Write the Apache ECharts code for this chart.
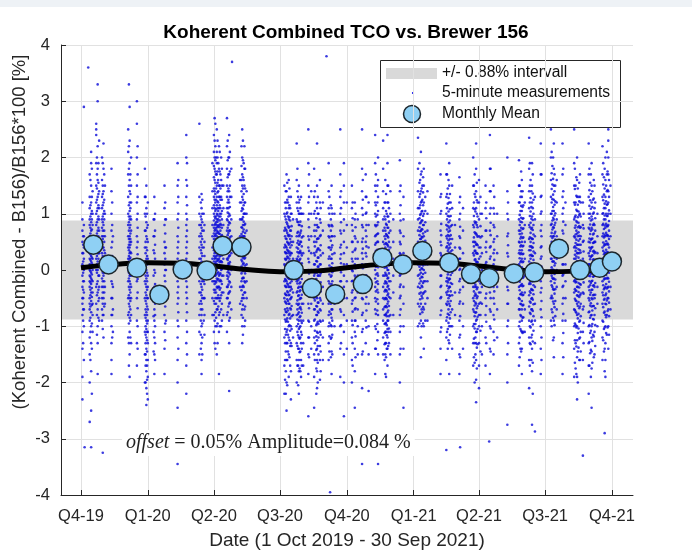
<!DOCTYPE html>
<html>
<head>
<meta charset="utf-8">
<script src="https://cdn.jsdelivr.net/npm/echarts@6/dist/echarts.min.js"></script>
<style>html,body{margin:0;padding:0;background:#fff;}#chart{width:692px;height:555px;}</style>
</head>
<body>
<div id="chart"></div>
<script>
// ---- data (x = days since 1 Oct 2019) ----
const quarterDays = [0, 92, 183, 274, 366, 458, 548, 639, 731];
const quarterLabels = ['Q4-19', 'Q1-20', 'Q2-20', 'Q3-20', 'Q4-20', 'Q1-21', 'Q2-21', 'Q3-21', 'Q4-21'];
const yTicks = [-4, -3, -2, -1, 0, 1, 2, 3, 4];
const bandHalfWidth = 0.88;

const meanDays = [17, 38, 77, 108, 140, 173, 195, 221, 293, 318, 350, 388, 415, 443, 470, 507, 537, 562, 596, 624, 658, 687, 714, 731];
const meanValues = [0.45, 0.10, 0.04, -0.44, 0.01, -0.01, 0.43, 0.41, 0.00, -0.32, -0.43, -0.25, 0.22, 0.10, 0.34, 0.13, -0.07, -0.14, -0.06, -0.04, 0.38, 0.00, 0.04, 0.15];

const fitDays = [0, 45, 92, 137, 183, 228, 274, 320, 366, 412, 458, 503, 548, 594, 639, 685, 731];
const fitValues = [0.04, 0.10, 0.13, 0.12, 0.07, 0.01, -0.03, -0.02, 0.04, 0.10, 0.13, 0.12, 0.07, 0.01, -0.03, -0.02, 0.04];

const measDays = [2,4,12,14,16,21,23,25,29,31,33,42,44,65,67,69,77,88,90,92,101,115,117,133,145,163,166,169,
  181,184,187,190,193,196,201,204,207,219,222,225,228,280,283,286,289,292,297,300,303,306,313,317,321,325,329,333,
  341,345,349,357,362,366,373,377,381,387,392,396,405,409,416,419,422,426,430,439,444,464,468,472,477,495,503,507,
  511,515,521,526,540,544,548,552,557,563,568,573,587,603,607,611,617,621,625,633,647,651,655,663,667,679,683,687,
  691,699,703,707,711,718,722,726,729];
const measValues = [
  [1.2,0.9,0.7,0.5,0.3,0.1,-0.1,-0.3,-0.5,-0.6,-0.8,-1.1,-1.4,-1.9,-2.3],
  [2.9,0.8,0.6,0.4,0.2,0.0,-0.2,-0.4,-0.7,-1.0,-1.6],
  [1.7,1.3,1.1,0.9,0.8,0.6,0.5,0.4,0.3,0.2,0.1,0.0,-0.1,-0.2,-0.3,-0.5,-0.6,-0.7,-0.9,-1.2,-1.5,-2.0,-2.7],
  [2.1,1.9,1.5,1.2,1.0,0.85,0.7,0.55,0.45,0.35,0.25,0.15,0.05,-0.05,-0.15,-0.25,-0.4,-0.55,-0.75,-1.0,-1.3,-1.8,-2.5,-3.15],
  [1.4,1.0,0.8,0.6,0.4,0.2,0.0,-0.2,-0.4,-0.6,-0.8,-1.1],
  [2.6,2.5,2.4,1.9,1.5,1.2,1.0,0.8,0.6,0.4,0.2,0.0,-0.3,-0.6],
  [3.3,3.0,2.2,1.8,1.6,1.3,1.1,0.9,0.7,0.55,0.4,0.3,0.15,0.0,-0.2,-0.4,-0.7,-1.0,-1.3,-1.85],
  [2.3,1.4,1.1,0.9,0.7,0.5,0.3,0.1,-0.1,-0.3,-0.5,-0.9],
  [2.0,1.6,1.3,1.1,0.9,0.75,0.6,0.45,0.3,0.15,0.0,-0.15,-0.3,-0.5,-0.7,-0.9],
  [2.25,1.8,1.4,1.2,1.0,0.8,0.6,0.4,0.2,0.05,-0.1,-0.3,-0.5,-0.8,-1.2],
  [1.5,1.0,0.6,0.3,0.0,-0.3,-0.6],
  [1.8,1.4,1.0,0.7,0.4,0.1,-0.2,-0.5,-0.8,-1.0,-1.3,-1.6,-1.85],
  [0.6,0.2,-0.3,-0.7,-1.1],
  [2.5,2.1,1.7,1.3,1.0,0.8,0.6,0.4,0.2,0.0,-0.2,-0.5,-0.8,-1.2],
  [2.9,2.3,1.9,1.6,1.4,1.2,1.05,0.9,0.75,0.6,0.5,0.4,0.3,0.2,0.1,0.0,-0.1,-0.2,-0.35,-0.5,-0.65,-0.85,-1.1,-1.5,-1.9],
  [2.0,1.5,1.2,0.9,0.7,0.5,0.3,0.1,-0.1,-0.3,-0.5,-0.8,-1.3],
  [3.0,2.6,2.0,1.5,1.2,0.9,0.6,0.4,0.1,-0.2,-0.5,-0.9,-1.3,-1.7],
  [1.8,1.3,1.0,0.7,0.4,0.1,-0.2,-0.5,-0.8,-1.1,-1.5,-2.0],
  [1.5,1.1,0.85,0.6,0.4,0.2,0.0,-0.15,-0.3,-0.45,-0.6,-0.75,-0.9,-1.05,-1.2,-1.4,-1.6,-1.8,-2.1,-2.4],
  [1.2,0.8,0.5,0.2,-0.1,-0.3,-0.5,-0.7,-0.9,-1.1,-1.3,-1.6,-1.9,-2.3],
  [1.3,0.9,0.6,0.3,0.0,-0.3,-0.5,-0.7,-0.9,-1.2,-1.5,-1.85],
  [1.5,1.1,0.8,0.5,0.3,0.1,-0.1,-0.3,-0.5,-0.8,-1.1,-1.4,-1.85],
  [0.9,0.4,0.0,-0.4,-0.9],
  [1.9,1.5,1.2,0.9,0.6,0.4,0.2,0.0,-0.2,-0.4,-0.6,-0.9,-1.2,-1.6,-2.0,-2.45,-3.45],
  [2.4,2.0,1.6,1.3,1.0,0.8,0.6,0.4,0.2,0.0,-0.2,-0.4,-0.6,-0.9,-1.3,-1.7,-2.2],
  [2.6,1.3,1.0,0.8,0.6,0.4,0.2,0.0,-0.2,-0.4,-0.6,-0.8,-1.1,-1.5],
  [1.35,1.1,0.9,0.75,0.6,0.45,0.3,0.15,0.0,-0.15,-0.3,-0.45,-0.6,-0.8,-1.0,-1.3,-1.6,-1.85],
  [1.0,0.7,0.4,0.1,-0.2,-0.5,-0.9],
  [1.9,1.4,1.1,0.8,0.6,0.4,0.2,0.0,-0.2,-0.5,-0.8],
  [2.7,2.3,2.0,1.8,1.6,1.4,1.25,1.1,0.95,0.8,0.7,0.6,0.5,0.4,0.3,0.2,0.1,0.0,-0.1,-0.25,-0.4,-0.6,-0.9,-1.3],
  [2.5,2.1,1.9,1.7,1.5,1.3,1.15,1.0,0.9,0.8,0.7,0.6,0.5,0.4,0.3,0.2,0.1,0.0,-0.15,-0.3,-0.5,-0.7,-1.0,-1.5],
  [2.2,1.8,1.5,1.3,1.1,0.95,0.8,0.65,0.5,0.35,0.2,0.05,-0.1,-0.3,-0.5,-0.8,-1.1,-1.85],
  [2.0,1.6,1.3,1.0,0.8,0.6,0.45,0.3,0.15,0.0,-0.2,-0.45,-0.7,-1.0],
  [1.5,1.1,0.8,0.5,0.2,-0.1,-0.4,-0.8],
  [2.7,2.2,1.8,1.5,1.3,1.1,0.9,0.7,0.5,0.35,0.2,0.05,-0.1,-0.3,-0.5,-0.8,-1.1],
  [2.4,2.0,1.7,1.4,1.2,1.0,0.85,0.7,0.55,0.4,0.25,0.1,-0.05,-0.2,-0.4,-0.6,-0.9,-1.3,-2.15],
  [1.8,1.3,0.9,0.6,0.3,0.0,-0.3,-0.7],
  [1.6,1.2,0.9,0.6,0.3,0.0,-0.3,-0.6],
  [2.5,2.0,1.7,1.5,1.3,1.1,0.9,0.75,0.6,0.45,0.3,0.15,0.0,-0.15,-0.3,-0.5,-0.7,-1.0,-1.3],
  [2.2,1.8,1.5,1.2,1.0,0.8,0.6,0.4,0.2,0.0,-0.2,-0.4,-0.7,-1.0],
  [1.4,1.0,0.7,0.4,0.1,-0.2,-0.5],
  [1.5,1.0,0.7,0.4,0.1,-0.2,-0.5,-0.8,-1.2,-1.7,-2.2],
  [1.7,1.4,1.2,1.0,0.85,0.7,0.55,0.4,0.3,0.2,0.1,0.0,-0.1,-0.2,-0.3,-0.45,-0.6,-0.75,-0.9,-1.1,-1.3,-1.6,-2.0,-2.5],
  [1.6,1.3,1.1,0.9,0.75,0.6,0.45,0.3,0.15,0.0,-0.15,-0.3,-0.45,-0.6,-0.8,-1.0,-1.2,-1.5,-1.9],
  [1.3,1.0,0.7,0.5,0.3,0.1,-0.1,-0.3,-0.5,-0.7,-1.0,-1.3,-1.8,-2.3],
  [0.9,0.5,0.2,-0.1,-0.4,-0.8,-1.2],
  [2.25,1.6,1.2,0.9,0.6,0.4,0.2,0.0,-0.2,-0.4,-0.6,-0.8,-1.0,-1.3,-1.6,-2.0],
  [1.5,1.2,1.0,0.8,0.6,0.45,0.3,0.15,0.0,-0.15,-0.3,-0.45,-0.6,-0.75,-0.9,-1.05,-1.2,-1.4,-1.6,-1.8,-2.2],
  [1.3,1.0,0.7,0.5,0.3,0.1,-0.1,-0.3,-0.5,-0.7,-0.9,-1.1,-1.3,-1.6,-1.9],
  [1.0,0.6,0.3,0.0,-0.3,-0.6,-0.9,-1.3,-1.7],
  [2.5,1.9,1.5,1.2,0.9,0.6,0.4,0.2,0.0,-0.2,-0.4,-0.6,-0.9,-1.2,-1.5,-1.85,-2.6],
  [1.4,1.0,0.6,0.3,0.0,-0.3,-0.6,-1.0,-1.4],
  [1.8,1.3,1.0,0.7,0.5,0.3,0.1,-0.1,-0.3,-0.5,-0.7,-0.9,-1.2,-1.5,-1.9,-2.45],
  [2.25,1.5,1.1,0.8,0.55,0.35,0.15,-0.05,-0.2,-0.35,-0.5,-0.65,-0.8,-0.95,-1.1,-1.25,-1.4,-1.6,-1.8,-2.1],
  [1.6,1.2,0.9,0.6,0.35,0.1,-0.1,-0.3,-0.5,-0.7,-0.9,-1.1,-1.35,-1.6,-1.95],
  [1.2,0.7,0.3,0.0,-0.3,-0.6,-0.9,-1.2,-1.6],
  [1.9,1.4,1.1,0.8,0.6,0.4,0.2,0.0,-0.2,-0.4,-0.6,-0.8,-1.0,-1.3,-1.6],
  [1.5,1.1,0.8,0.6,0.4,0.2,0.05,-0.1,-0.25,-0.4,-0.55,-0.7,-0.85,-1.0,-1.2,-1.45,-1.85],
  [1.0,0.6,0.3,0.0,-0.3,-0.6,-1.0],
  [2.5,1.7,1.3,1.0,0.7,0.4,0.2,0.0,-0.2,-0.4,-0.7,-1.0,-1.4,-1.9],
  [1.9,1.5,1.2,0.9,0.7,0.5,0.3,0.1,-0.1,-0.3,-0.5,-0.8,-1.1,-1.5,-2.0,-2.6],
  [1.2,0.8,0.4,0.1,-0.2,-0.5,-0.9,-1.4],
  [1.5,1.1,0.8,0.5,0.2,0.0,-0.2,-0.4,-0.6,-0.9,-1.2,-1.6,-2.0],
  [1.2,0.9,0.6,0.35,0.1,-0.1,-0.3,-0.5,-0.7,-0.9,-1.1,-1.4,-1.8,-2.45],
  [0.9,0.5,0.2,-0.1,-0.4,-0.7,-1.0,-1.5],
  [2.5,1.8,1.4,1.1,0.8,0.5,0.3,0.1,-0.1,-0.3,-0.5,-0.8,-1.1,-1.5,-2.1,-3.45],
  [1.7,1.3,1.0,0.7,0.5,0.3,0.1,-0.1,-0.3,-0.6,-0.9,-1.3],
  [1.2,0.8,0.4,0.1,-0.2,-0.6,-1.0,-1.5,-2.15],
  [2.4,1.9,1.5,1.2,1.0,0.8,0.6,0.45,0.3,0.15,0.0,-0.15,-0.3,-0.5,-0.7,-1.0,-1.4,-1.85],
  [2.0,1.6,1.3,1.05,0.85,0.65,0.5,0.35,0.2,0.05,-0.1,-0.25,-0.4,-0.6,-0.8,-1.1,-1.5,-3.45],
  [2.3,1.8,1.4,1.1,0.9,0.7,0.5,0.3,0.1,-0.1,-0.3,-0.5,-0.7,-0.9,-1.2,-1.5],
  [1.6,1.2,0.9,0.7,0.55,0.4,0.25,0.1,-0.05,-0.2,-0.35,-0.5,-0.65,-0.8,-0.95,-1.1,-1.3,-1.5,-1.85],
  [2.4,1.9,1.5,1.2,0.95,0.75,0.6,0.45,0.3,0.15,0.0,-0.15,-0.3,-0.45,-0.6,-0.75,-0.9,-1.05,-1.2,-1.4,-1.7],
  [1.4,1.0,0.7,0.4,0.1,-0.2,-0.5,-0.8,-1.1,-1.5],
  [0.9,0.5,0.2,-0.1,-0.4,-0.8],
  [1.95,1.4,1.0,0.7,0.5,0.3,0.1,-0.1,-0.3,-0.5,-0.8,-1.1,-1.5,-2.0],
  [1.3,0.9,0.6,0.3,0.0,-0.3,-0.6,-1.0,-1.4,-2.45],
  [2.35,1.8,1.4,1.1,0.9,0.7,0.5,0.3,0.1,-0.1,-0.3,-0.6,-1.0],
  [2.1,1.7,1.4,1.2,1.0,0.85,0.7,0.55,0.4,0.25,0.1,-0.05,-0.2,-0.4,-0.6,-0.9,-1.2,-1.55],
  [1.8,1.5,1.2,1.0,0.8,0.6,0.45,0.3,0.15,0.0,-0.2,-0.4,-0.7,-1.0,-1.4],
  [1.4,1.0,0.7,0.4,0.1,-0.2,-0.5,-0.9],
  [1.7,1.3,1.0,0.7,0.5,0.3,0.1,-0.1,-0.3,-0.5,-0.8,-1.1,-1.4,-1.85],
  [2.25,1.7,1.3,1.0,0.8,0.6,0.4,0.2,0.0,-0.2,-0.4,-0.6,-0.9,-1.2,-1.6],
  [1.9,1.5,1.2,0.95,0.75,0.6,0.45,0.3,0.15,0.0,-0.15,-0.3,-0.45,-0.6,-0.8,-1.0,-1.3,-1.85],
  [1.5,1.1,0.8,0.55,0.35,0.15,-0.05,-0.25,-0.45,-0.7,-1.0,-1.4],
  [0.8,0.4,0.0,-0.4,-0.8],
  [1.65,1.2,0.9,0.6,0.4,0.2,0.0,-0.2,-0.4,-0.6,-0.9,-1.2,-1.5,-1.85],
  [1.1,0.7,0.3,0.0,-0.3,-0.6,-1.0,-1.4],
  [2.0,1.5,1.1,0.8,0.5,0.3,0.1,-0.1,-0.3,-0.5,-0.7,-1.0,-1.3,-1.7],
  [2.25,1.8,1.4,1.1,0.85,0.65,0.45,0.3,0.15,0.0,-0.15,-0.3,-0.45,-0.6,-0.75,-0.9,-1.1,-1.3,-1.6,-1.95,-2.35],
  [1.6,1.2,0.9,0.6,0.4,0.2,0.0,-0.2,-0.4,-0.6,-0.8,-1.0,-1.3,-1.7,-2.1],
  [1.0,0.6,0.3,0.0,-0.3,-0.6,-1.0,-1.5],
  [1.5,1.1,0.7,0.4,0.1,-0.2,-0.5,-0.8,-1.2,-1.7],
  [2.4,1.8,1.4,1.0,0.7,0.4,0.2,0.0,-0.2,-0.4,-0.7,-1.0,-1.4,-1.85],
  [1.5,1.1,0.8,0.5,0.3,0.1,-0.1,-0.3,-0.5,-0.8,-1.1,-1.5],
  [1.0,0.6,0.3,0.0,-0.3,-0.7,-1.2],
  [2.0,1.4,1.0,0.6,0.3,0.0,-0.3,-0.6,-1.0,-1.5,-2.0,-2.75],
  [1.95,1.5,1.2,0.9,0.7,0.5,0.3,0.1,-0.1,-0.3,-0.5,-0.7,-1.0,-1.3,-1.7],
  [1.6,1.3,1.05,0.85,0.65,0.5,0.35,0.2,0.05,-0.1,-0.25,-0.4,-0.55,-0.7,-0.9,-1.1,-1.4,-1.85],
  [1.2,0.8,0.5,0.2,-0.1,-0.4,-0.7,-1.1],
  [2.35,1.8,1.4,1.1,0.8,0.55,0.35,0.15,-0.05,-0.25,-0.45,-0.65,-0.9,-1.2,-1.6,-2.1],
  [1.9,1.5,1.2,0.95,0.75,0.55,0.4,0.25,0.1,-0.05,-0.2,-0.35,-0.5,-0.7,-0.9,-1.15,-1.4,-1.8,-2.75],
  [1.3,0.9,0.6,0.3,0.0,-0.3,-0.6,-0.9,-1.3],
  [2.25,1.7,1.3,1.0,0.7,0.4,0.2,0.0,-0.2,-0.4,-0.7,-1.0,-1.4,-1.85],
  [2.5,2.0,1.6,1.3,1.0,0.8,0.6,0.4,0.2,0.0,-0.2,-0.5,-0.9],
  [2.25,1.8,1.5,1.25,1.05,0.9,0.75,0.6,0.45,0.3,0.15,0.0,-0.15,-0.35,-0.6,-0.9,-1.2,-1.55],
  [1.6,1.2,0.9,0.6,0.4,0.2,0.0,-0.3,-0.7],
  [2.25,1.7,1.3,1.0,0.7,0.5,0.3,0.1,-0.1,-0.3,-0.6,-0.9,-1.3,-1.85],
  [1.2,0.8,0.4,0.1,-0.2,-0.5,-0.9],
  [2.5,1.9,1.5,1.2,0.9,0.6,0.4,0.2,0.0,-0.2,-0.4,-0.7,-1.0,-1.4,-1.9],
  [2.0,1.6,1.3,1.05,0.85,0.65,0.45,0.3,0.15,0.0,-0.15,-0.3,-0.45,-0.6,-0.8,-1.0,-1.25,-1.55,-1.9,-2.3],
  [1.7,1.3,1.0,0.75,0.55,0.35,0.15,-0.05,-0.25,-0.45,-0.65,-0.9,-1.2,-1.6],
  [1.2,0.8,0.5,0.2,-0.1,-0.4,-0.7,-1.1,-1.6],
  [2.25,1.7,1.3,1.0,0.75,0.5,0.3,0.1,-0.1,-0.3,-0.5,-0.75,-1.0,-1.3,-1.7,-2.2],
  [1.9,1.5,1.2,0.95,0.75,0.55,0.4,0.25,0.1,-0.05,-0.2,-0.35,-0.5,-0.65,-0.8,-1.0,-1.2,-1.45,-1.75,-2.45],
  [1.5,1.1,0.8,0.5,0.3,0.1,-0.1,-0.3,-0.5,-0.8,-1.1,-1.5],
  [1.0,0.6,0.3,0.0,-0.3,-0.6,-1.0],
  [2.2,1.7,1.3,1.0,0.8,0.6,0.4,0.2,0.0,-0.2,-0.4,-0.6,-0.9,-1.2,-1.6],
  [2.0,1.6,1.3,1.1,0.9,0.75,0.6,0.45,0.3,0.15,0.0,-0.15,-0.3,-0.45,-0.6,-0.8,-1.0,-1.3,-1.6,-1.9],
  [2.5,2.3,2.0,1.7,1.4,1.2,1.0,0.8,0.6,0.45,0.3,0.15,0.0,-0.15,-0.3,-0.5,-0.7,-1.0,-1.4],
  [1.5,1.0,0.6,0.3,0.0,-0.3,-0.7]
];
// denser day-columns inside the busiest streaks
const denseDays = [3,13,15,22,24,30,32,43,66,68,78,89,91,100,102,116,134,146,165,167,170,
  183,185,186,188,189,191,192,194,202,203,205,221,223,224,226,
  281,282,284,285,287,288,290,298,299,301,302,304,314,322,324,326,327,330,342,344,346,
  358,374,378,388,393,406,408,418,420,421,423,424,440,466,467,469,470,471,474,496,
  504,505,506,508,509,522,541,542,543,545,546,550,558,564,569,588,
  604,605,606,608,609,618,619,620,622,623,634,648,649,650,652,653,664,
  680,681,682,684,685,686,688,692,700,701,702,704,705,706,708,719,720,721,723,724,725,727];
const denseValues = [
  [0.6,0.45,0.3,0.15,0.05,-0.05,-0.2,-0.35,-0.5,-0.7,-0.9,-1.3],
  [1.6,1.15,0.95,0.75,0.65,0.5,0.38,0.28,0.18,0.08,-0.02,-0.12,-0.22,-0.35,-0.45,-0.65,-0.85,-1.1,-1.6],
  [1.8,1.3,1.05,0.9,0.72,0.6,0.48,0.32,0.22,0.12,-0.08,-0.18,-0.32,-0.48,-0.62,-0.95,-1.4,-2.2],
  [2.0,1.7,1.45,1.25,1.05,0.85,0.65,0.5,0.35,0.25,0.1,-0.05,-0.25,-0.45,-0.8,-1.15],
  [1.9,1.55,1.35,1.15,0.95,0.75,0.6,0.45,0.3,0.2,0.05,-0.1,-0.35,-0.55,-0.85],
  [1.9,1.5,1.35,1.15,0.95,0.85,0.7,0.55,0.4,0.25,0.1,-0.05,-0.2,-0.4,-0.6,-0.8,-1.05],
  [1.7,1.25,1.05,0.9,0.7,0.5,0.35,0.2,0.1,-0.05,-0.2,-0.4,-0.65],
  [1.2,0.8,0.5,0.25,0.0,-0.25,-0.5,-0.8,-1.2],
  [2.2,1.8,1.5,1.15,0.95,0.85,0.7,0.55,0.45,0.35,0.25,0.15,0.05,-0.05,-0.15,-0.3,-0.45,-0.6,-0.75,-0.95,-1.3,-1.7],
  [1.7,1.35,1.1,0.95,0.8,0.65,0.55,0.45,0.32,0.22,0.12,0.02,-0.08,-0.25,-0.4,-0.55,-0.7,-0.9,-1.2],
  [2.2,1.7,1.3,1.0,0.75,0.5,0.28,0.06,-0.16,-0.4,-0.68,-1.0,-1.4],
  [1.3,0.95,0.7,0.5,0.3,0.15,0.05,-0.1,-0.25,-0.4,-0.55,-0.7,-0.85,-1.0,-1.15,-1.3,-1.5,-1.7,-2.0],
  [1.0,0.75,0.55,0.35,0.25,0.1,-0.05,-0.2,-0.35,-0.5,-0.65,-0.8,-0.95,-1.1,-1.25,-1.45,-1.7,-1.95,-2.2],
  [0.9,0.6,0.35,0.12,-0.1,-0.32,-0.56,-0.82,-1.1,-1.45],
  [1.0,0.7,0.45,0.2,-0.05,-0.25,-0.45,-0.6,-0.8,-1.0,-1.3,-1.6],
  [1.2,0.9,0.65,0.4,0.2,0.0,-0.2,-0.4,-0.65,-0.95,-1.25],
  [1.6,1.3,1.0,0.75,0.5,0.3,0.1,-0.1,-0.3,-0.5,-0.75,-1.0,-1.4],
  [1.9,1.5,1.15,0.9,0.7,0.5,0.3,0.1,-0.1,-0.3,-0.5,-0.75,-1.1,-1.5],
  [1.2,0.95,0.8,0.65,0.5,0.35,0.2,0.05,-0.1,-0.25,-0.4,-0.55,-0.7,-0.9,-1.15,-1.4],
  [1.25,1.0,0.85,0.7,0.55,0.4,0.25,0.1,-0.05,-0.2,-0.35,-0.5,-0.7,-0.95,-1.2,-1.5],
  [0.8,0.5,0.25,0.0,-0.25,-0.5,-0.8,-1.15],
  [2.4,2.1,1.85,1.65,1.45,1.3,1.15,1.0,0.88,0.75,0.65,0.55,0.45,0.35,0.25,0.15,0.05,-0.05,-0.2,-0.35,-0.55,-0.8,-1.1],
  [2.6,2.2,1.95,1.75,1.55,1.35,1.2,1.05,0.92,0.82,0.72,0.62,0.52,0.42,0.32,0.22,0.12,0.02,-0.1,-0.2,-0.35,-0.5,-0.75,-1.0,-1.4],
  [2.0,1.7,1.45,1.25,1.08,0.95,0.85,0.75,0.65,0.55,0.45,0.35,0.25,0.15,0.05,-0.08,-0.22,-0.4,-0.6,-0.85],
  [2.3,2.0,1.75,1.55,1.38,1.22,1.1,0.98,0.86,0.76,0.66,0.56,0.46,0.36,0.26,0.16,0.06,-0.06,-0.18,-0.32,-0.5,-0.7,-0.95,-1.3],
  [1.9,1.6,1.4,1.2,1.05,0.9,0.78,0.68,0.58,0.48,0.38,0.28,0.18,0.08,-0.04,-0.16,-0.3,-0.45,-0.65],
  [2.1,1.75,1.5,1.3,1.15,1.0,0.88,0.76,0.64,0.54,0.44,0.34,0.24,0.14,0.04,-0.08,-0.2,-0.35,-0.55,-0.75,-1.0],
  [1.7,1.45,1.25,1.1,0.95,0.82,0.7,0.58,0.46,0.36,0.26,0.16,0.06,-0.06,-0.18,-0.32,-0.5],
  [1.8,1.5,1.25,1.05,0.9,0.75,0.62,0.5,0.38,0.26,0.14,0.02,-0.1,-0.25,-0.4,-0.6,-0.9],
  [2.3,1.95,1.65,1.4,1.2,1.02,0.88,0.75,0.62,0.5,0.4,0.3,0.18,0.08,-0.04,-0.16,-0.3,-0.5,-0.75],
  [2.0,1.7,1.45,1.25,1.1,0.95,0.8,0.66,0.54,0.44,0.34,0.22,0.12,0.0,-0.12,-0.26,-0.42,-0.65],
  [2.1,1.75,1.5,1.3,1.12,0.97,0.83,0.7,0.58,0.46,0.36,0.26,0.14,0.04,-0.08,-0.22,-0.38,-0.58,-0.85],
  [2.2,1.85,1.6,1.4,1.2,1.05,0.9,0.76,0.64,0.52,0.4,0.28,0.18,0.06,-0.06,-0.2,-0.36,-0.55,-0.8],
  [2.3,1.95,1.65,1.45,1.25,1.08,0.94,0.8,0.68,0.56,0.44,0.34,0.22,0.1,-0.02,-0.14,-0.28,-0.44,-0.62,-0.85,-1.15],
  [1.9,1.6,1.35,1.15,1.0,0.86,0.72,0.6,0.48,0.36,0.24,0.12,0.0,-0.14,-0.3,-0.5],
  [1.8,1.45,1.2,1.0,0.82,0.66,0.5,0.36,0.22,0.08,-0.06,-0.22,-0.4,-0.65,-0.9],
  [1.2,0.95,0.75,0.6,0.45,0.32,0.2,0.08,-0.04,-0.16,-0.28,-0.42,-0.56,-0.7,-0.88,-1.05,-1.3,-1.6,-1.95],
  [1.4,1.1,0.9,0.72,0.56,0.42,0.3,0.18,0.06,-0.06,-0.18,-0.3,-0.44,-0.58,-0.74,-0.92,-1.15,-1.45,-1.8,-2.2],
  [1.55,1.25,1.02,0.82,0.66,0.5,0.36,0.24,0.12,0.0,-0.12,-0.24,-0.38,-0.52,-0.68,-0.86,-1.06,-1.3,-1.6,-2.05],
  [1.2,0.95,0.78,0.62,0.48,0.34,0.22,0.1,-0.02,-0.14,-0.26,-0.4,-0.55,-0.72,-0.92,-1.15,-1.45],
  [1.45,1.15,0.94,0.77,0.62,0.47,0.33,0.2,0.08,-0.04,-0.16,-0.3,-0.44,-0.6,-0.78,-0.98,-1.25,-1.55],
  [1.1,0.88,0.7,0.55,0.4,0.26,0.14,0.02,-0.1,-0.23,-0.37,-0.52,-0.68,-0.86,-1.08,-1.35,-1.7],
  [1.0,0.78,0.6,0.44,0.3,0.16,0.04,-0.08,-0.2,-0.34,-0.48,-0.64,-0.82,-1.05,-1.35],
  [1.8,1.4,1.1,0.86,0.66,0.48,0.32,0.18,0.04,-0.1,-0.24,-0.38,-0.54,-0.7,-0.88,-1.1,-1.35,-1.7],
  [1.3,1.05,0.85,0.68,0.52,0.38,0.24,0.1,-0.04,-0.18,-0.32,-0.46,-0.62,-0.78,-0.96,-1.16,-1.4,-1.7,-2.05],
  [1.25,1.0,0.8,0.62,0.46,0.32,0.18,0.04,-0.1,-0.24,-0.38,-0.52,-0.68,-0.84,-1.02,-1.22,-1.46,-1.75],
  [1.1,0.86,0.66,0.5,0.34,0.2,0.06,-0.08,-0.22,-0.36,-0.5,-0.66,-0.82,-1.0,-1.2,-1.45,-1.8],
  [1.0,0.78,0.58,0.42,0.26,0.12,-0.02,-0.16,-0.3,-0.44,-0.6,-0.76,-0.94,-1.15,-1.4,-1.7],
  [1.7,1.3,1.0,0.76,0.54,0.34,0.14,-0.06,-0.26,-0.46,-0.68,-0.92,-1.2,-1.55],
  [1.4,1.05,0.8,0.6,0.42,0.26,0.1,-0.06,-0.22,-0.38,-0.54,-0.7,-0.88,-1.08,-1.3,-1.6],
  [1.2,0.92,0.7,0.5,0.32,0.16,0.0,-0.16,-0.32,-0.48,-0.64,-0.8,-0.98,-1.18,-1.42,-1.75,-2.2],
  [1.3,1.0,0.76,0.56,0.38,0.22,0.06,-0.1,-0.26,-0.42,-0.58,-0.74,-0.92,-1.12,-1.35,-1.65,-2.0],
  [1.0,0.76,0.56,0.38,0.22,0.06,-0.1,-0.26,-0.42,-0.58,-0.76,-0.96,-1.2,-1.5],
  [1.1,0.84,0.62,0.44,0.26,0.1,-0.06,-0.22,-0.38,-0.54,-0.72,-0.92,-1.15,-1.45,-1.8],
  [1.3,1.0,0.78,0.58,0.4,0.24,0.08,-0.08,-0.24,-0.4,-0.56,-0.74,-0.94,-1.18,-1.45],
  [1.15,0.9,0.7,0.52,0.36,0.2,0.04,-0.12,-0.28,-0.44,-0.6,-0.78,-0.98,-1.22,-1.55],
  [1.0,0.78,0.6,0.44,0.28,0.12,-0.04,-0.2,-0.36,-0.52,-0.7,-0.9,-1.15,-1.5],
  [1.4,1.1,0.85,0.65,0.45,0.28,0.12,-0.04,-0.2,-0.36,-0.54,-0.74,-0.98,-1.3],
  [1.2,0.92,0.7,0.5,0.32,0.15,-0.02,-0.19,-0.36,-0.54,-0.74,-0.98,-1.3,-1.7],
  [1.0,0.76,0.56,0.38,0.2,0.03,-0.14,-0.31,-0.49,-0.68,-0.9,-1.18,-1.55],
  [1.6,1.25,0.98,0.76,0.56,0.38,0.2,0.03,-0.14,-0.32,-0.52,-0.76,-1.05,-1.45],
  [1.3,1.02,0.8,0.6,0.42,0.24,0.07,-0.1,-0.28,-0.48,-0.72,-1.02],
  [1.7,1.4,1.15,0.95,0.78,0.62,0.48,0.34,0.2,0.06,-0.08,-0.22,-0.38,-0.56,-0.78,-1.05,-1.4],
  [1.5,1.2,0.98,0.8,0.64,0.5,0.36,0.22,0.08,-0.06,-0.2,-0.35,-0.52,-0.72,-0.96,-1.25],
  [1.2,0.95,0.75,0.6,0.46,0.32,0.18,0.04,-0.1,-0.24,-0.38,-0.52,-0.66,-0.8,-0.96,-1.12,-1.32,-1.6],
  [1.35,1.05,0.82,0.64,0.48,0.34,0.2,0.06,-0.08,-0.22,-0.36,-0.5,-0.64,-0.78,-0.94,-1.1,-1.3,-1.55,-1.9],
  [1.0,0.8,0.62,0.46,0.32,0.18,0.04,-0.1,-0.24,-0.38,-0.52,-0.66,-0.82,-0.98,-1.16,-1.4],
  [1.5,1.2,0.95,0.75,0.58,0.42,0.28,0.14,0.0,-0.14,-0.28,-0.42,-0.56,-0.72,-0.9,-1.1,-1.35],
  [1.1,0.86,0.66,0.5,0.36,0.22,0.08,-0.06,-0.2,-0.34,-0.48,-0.64,-0.82,-1.04,-1.3],
  [1.5,1.15,0.88,0.66,0.46,0.28,0.1,-0.08,-0.26,-0.46,-0.7,-1.0,-1.4],
  [1.9,1.55,1.3,1.1,0.92,0.76,0.62,0.48,0.34,0.2,0.06,-0.08,-0.24,-0.42,-0.65,-0.95],
  [1.6,1.35,1.15,0.98,0.83,0.69,0.55,0.42,0.28,0.14,0.0,-0.15,-0.32,-0.52,-0.78],
  [1.75,1.45,1.22,1.04,0.88,0.73,0.59,0.45,0.31,0.17,0.03,-0.12,-0.28,-0.46,-0.7,-1.0],
  [1.5,1.25,1.05,0.88,0.72,0.58,0.44,0.3,0.16,0.02,-0.13,-0.3,-0.5,-0.75],
  [1.65,1.38,1.15,0.96,0.8,0.65,0.5,0.36,0.22,0.08,-0.07,-0.23,-0.42,-0.66,-0.95],
  [1.3,1.05,0.85,0.68,0.52,0.38,0.24,0.1,-0.05,-0.2,-0.38,-0.6,-0.9],
  [1.35,1.05,0.82,0.62,0.44,0.26,0.08,-0.1,-0.28,-0.48,-0.72,-1.02],
  [1.7,1.35,1.1,0.9,0.72,0.56,0.42,0.28,0.14,0.0,-0.14,-0.28,-0.44,-0.62,-0.84,-1.1],
  [1.45,1.18,0.96,0.78,0.62,0.48,0.34,0.2,0.06,-0.08,-0.22,-0.38,-0.56,-0.78,-1.05,-1.4],
  [1.6,1.28,1.04,0.85,0.68,0.53,0.38,0.24,0.1,-0.04,-0.18,-0.33,-0.5,-0.7,-0.94,-1.25],
  [1.35,1.08,0.88,0.7,0.55,0.4,0.26,0.12,-0.02,-0.16,-0.3,-0.46,-0.64,-0.86,-1.15],
  [1.2,0.96,0.78,0.62,0.47,0.33,0.19,0.05,-0.09,-0.23,-0.38,-0.55,-0.75,-1.0],
  [1.3,1.0,0.77,0.57,0.38,0.2,0.02,-0.16,-0.35,-0.56,-0.82,-1.15,-1.55],
  [1.5,1.2,0.96,0.76,0.58,0.42,0.26,0.1,-0.06,-0.22,-0.38,-0.55,-0.74,-0.96,-1.22,-1.55],
  [1.7,1.35,1.08,0.86,0.67,0.5,0.34,0.18,0.02,-0.14,-0.3,-0.46,-0.63,-0.82,-1.04,-1.3,-1.65,-2.0],
  [1.3,1.04,0.83,0.65,0.49,0.34,0.19,0.04,-0.11,-0.26,-0.42,-0.58,-0.76,-0.96,-1.2,-1.5],
  [1.55,1.24,1.0,0.8,0.62,0.46,0.3,0.14,-0.02,-0.18,-0.34,-0.5,-0.68,-0.88,-1.1,-1.38,-1.75],
  [1.2,0.95,0.76,0.59,0.44,0.29,0.14,-0.01,-0.16,-0.31,-0.47,-0.64,-0.83,-1.05,-1.32],
  [1.3,1.0,0.78,0.58,0.4,0.24,0.08,-0.08,-0.24,-0.4,-0.58,-0.8,-1.08,-1.45],
  [1.2,0.92,0.7,0.5,0.32,0.14,-0.04,-0.22,-0.42,-0.64,-0.92,-1.3],
  [1.8,1.4,1.1,0.84,0.62,0.42,0.24,0.06,-0.12,-0.3,-0.5,-0.74,-1.04,-1.45],
  [1.3,1.0,0.76,0.55,0.36,0.18,0.0,-0.18,-0.38,-0.6,-0.88,-1.25],
  [1.2,0.9,0.65,0.44,0.24,0.05,-0.15,-0.36,-0.6,-0.9,-1.3],
  [1.5,1.2,0.98,0.8,0.64,0.49,0.35,0.21,0.07,-0.07,-0.21,-0.36,-0.52,-0.7,-0.92,-1.2,-1.55],
  [1.3,1.05,0.86,0.7,0.56,0.42,0.28,0.14,0.0,-0.14,-0.28,-0.43,-0.6,-0.8,-1.05,-1.4],
  [1.75,1.4,1.14,0.93,0.75,0.59,0.44,0.3,0.16,0.02,-0.12,-0.27,-0.43,-0.61,-0.82,-1.08,-1.45],
  [1.4,1.12,0.91,0.73,0.57,0.42,0.28,0.14,0.0,-0.14,-0.29,-0.45,-0.63,-0.85,-1.12],
  [1.15,0.92,0.74,0.58,0.43,0.29,0.15,0.01,-0.13,-0.28,-0.44,-0.62,-0.84,-1.1],
  [1.9,1.5,1.2,0.96,0.76,0.58,0.42,0.26,0.1,-0.06,-0.22,-0.38,-0.56,-0.76,-1.0,-1.3,-1.7],
  [1.6,1.28,1.04,0.84,0.66,0.5,0.35,0.2,0.05,-0.1,-0.25,-0.41,-0.58,-0.78,-1.02,-1.32],
  [1.4,1.12,0.91,0.73,0.57,0.42,0.27,0.12,-0.03,-0.18,-0.34,-0.51,-0.7,-0.92,-1.2,-1.6],
  [1.7,1.36,1.1,0.89,0.71,0.55,0.4,0.25,0.1,-0.05,-0.2,-0.36,-0.53,-0.73,-0.97,-1.27,-1.65,-2.2],
  [1.25,1.0,0.8,0.63,0.48,0.33,0.18,0.03,-0.12,-0.27,-0.43,-0.61,-0.82,-1.08],
  [1.7,1.32,1.04,0.8,0.6,0.42,0.24,0.06,-0.12,-0.32,-0.55,-0.84,-1.2,-1.6],
  [2.1,1.72,1.44,1.2,1.0,0.82,0.66,0.5,0.35,0.2,0.05,-0.1,-0.27,-0.46,-0.7,-1.0],
  [1.85,1.52,1.26,1.05,0.88,0.72,0.57,0.43,0.29,0.15,0.01,-0.14,-0.3,-0.5,-0.75],
  [2.0,1.62,1.34,1.12,0.93,0.76,0.6,0.45,0.3,0.15,0.0,-0.16,-0.34,-0.56,-0.85,-1.25],
  [1.7,1.4,1.16,0.97,0.8,0.65,0.5,0.36,0.22,0.08,-0.07,-0.23,-0.42,-0.66,-0.98],
  [1.5,1.22,1.01,0.84,0.68,0.54,0.4,0.26,0.12,-0.02,-0.17,-0.34,-0.55,-0.82],
  [1.8,1.4,1.1,0.86,0.65,0.46,0.28,0.1,-0.08,-0.28,-0.5,-0.78,-1.12,-1.55],
  [1.8,1.44,1.16,0.94,0.75,0.58,0.42,0.27,0.12,-0.03,-0.18,-0.34,-0.51,-0.71,-0.95,-1.25,-1.65],
  [1.5,1.2,0.97,0.79,0.63,0.48,0.34,0.2,0.06,-0.08,-0.22,-0.37,-0.54,-0.74,-0.98,-1.3,-1.75],
  [1.65,1.32,1.07,0.87,0.7,0.54,0.39,0.24,0.09,-0.06,-0.21,-0.37,-0.55,-0.76,-1.02,-1.36,-1.85],
  [1.45,1.16,0.94,0.76,0.6,0.45,0.3,0.15,0.0,-0.15,-0.3,-0.46,-0.64,-0.86,-1.12,-1.45,-2.0],
  [1.3,1.04,0.84,0.67,0.52,0.37,0.22,0.07,-0.08,-0.23,-0.39,-0.57,-0.78,-1.04,-1.38],
  [1.55,1.22,0.98,0.78,0.61,0.45,0.3,0.15,0.0,-0.15,-0.31,-0.48,-0.68,-0.92,-1.22,-1.6],
  [1.2,0.95,0.76,0.6,0.45,0.31,0.17,0.03,-0.11,-0.26,-0.42,-0.6,-0.82,-1.1,-1.45],
  [1.0,0.74,0.52,0.33,0.15,-0.03,-0.22,-0.42,-0.65,-0.94,-1.3],
  [1.8,1.42,1.14,0.92,0.73,0.56,0.4,0.25,0.1,-0.05,-0.2,-0.36,-0.54,-0.74,-0.98,-1.28,-1.7],
  [1.55,1.24,1.0,0.81,0.64,0.49,0.34,0.19,0.04,-0.11,-0.27,-0.44,-0.63,-0.85,-1.12,-1.48],
  [1.7,1.35,1.09,0.88,0.7,0.54,0.38,0.23,0.08,-0.07,-0.23,-0.4,-0.59,-0.81,-1.08,-1.42,-1.9],
  [1.4,1.12,0.9,0.72,0.56,0.41,0.26,0.11,-0.04,-0.19,-0.35,-0.52,-0.72,-0.96,-1.26,-1.65],
  [1.25,1.0,0.8,0.63,0.48,0.33,0.18,0.03,-0.12,-0.28,-0.45,-0.64,-0.87,-1.15],
  [1.6,1.27,1.02,0.82,0.65,0.49,0.34,0.19,0.04,-0.11,-0.27,-0.44,-0.64,-0.88,-1.18,-1.55],
  [1.2,0.92,0.7,0.5,0.32,0.14,-0.04,-0.23,-0.44,-0.68,-0.98,-1.35],
  [1.9,1.52,1.24,1.01,0.82,0.65,0.49,0.34,0.19,0.04,-0.11,-0.27,-0.45,-0.66,-0.92,-1.25],
  [1.65,1.34,1.1,0.9,0.73,0.58,0.43,0.28,0.13,-0.02,-0.17,-0.34,-0.53,-0.76,-1.05,-1.45],
  [1.8,1.45,1.18,0.97,0.79,0.62,0.46,0.31,0.16,0.01,-0.15,-0.32,-0.51,-0.74,-1.02,-1.4,-1.8],
  [1.5,1.22,1.0,0.82,0.66,0.51,0.36,0.21,0.06,-0.09,-0.25,-0.42,-0.61,-0.84,-1.12],
  [2.1,1.7,1.4,1.16,0.96,0.78,0.62,0.46,0.31,0.16,0.01,-0.15,-0.33,-0.54,-0.8,-1.15],
  [1.75,1.42,1.17,0.96,0.78,0.62,0.47,0.32,0.17,0.02,-0.14,-0.31,-0.5,-0.73,-1.02],
  [1.6,1.3,1.06,0.87,0.7,0.55,0.4,0.25,0.1,-0.05,-0.21,-0.38,-0.58,-0.82,-1.15]
];
const outlierDays = [10, 5, 30, 66, 208, 338, 343, 503, 522, 562, 625, 691, 721];
const outlierValues = [3.6, -3.15, -3.25, 3.3, 3.7, 3.8, -3.95, -3.2, -3.15, -3.05, -2.87, -3.3, -2.9];

// ---- build data ----
const measPoints = [];
measDays.forEach((d, i) => (measValues[i] || []).forEach(v => measPoints.push([d, v])));
denseDays.forEach((d, i) => (denseValues[i] || []).forEach(v => measPoints.push([d, v])));
outlierDays.forEach((d, i) => measPoints.push([d, outlierValues[i]]));
const meanPoints = meanDays.map((d, i) => [d, meanValues[i]]);
const fitPoints = fitDays.map((d, i) => [d, fitValues[i]]);

const AXIS = '#262626';
const GRID = '#e1e1e1';
const SANS = '"Liberation Sans", Arial, Helvetica, sans-serif';
const SERIF = '"Liberation Serif", "DejaVu Serif", serif';

const chart = echarts.init(document.getElementById('chart'), null, { renderer: 'canvas' });
chart.setOption({
  animation: false,
  backgroundColor: '#ffffff',
  title: {
    text: 'Koherent Combined TCO vs. Brewer 156',
    left: 'center', top: 18,
    textStyle: { fontFamily: SANS, fontSize: 19, fontWeight: 'bold', color: '#000' }
  },
  grid: { left: 61, right: 59, top: 45, bottom: 55, containLabel: false },
  xAxis: {
    type: 'value', min: -27.5, max: 760, z: 1,
    axisLine: { onZero: false, lineStyle: { color: AXIS, width: 1 } },
    axisTick: { inside: true, length: 5, customValues: quarterDays, lineStyle: { color: AXIS } },
    axisLabel: {
      customValues: quarterDays, margin: 13, color: AXIS, fontFamily: SANS, fontSize: 16.5,
      formatter: v => quarterLabels[quarterDays.indexOf(Math.round(v))] || ''
    },
    splitLine: { show: true, lineStyle: { color: GRID, width: 1 } },
    name: 'Date (1 Oct 2019 - 30 Sep 2021)', nameLocation: 'middle', nameGap: 36,
    nameTextStyle: { fontFamily: SANS, fontSize: 19, color: AXIS }
  },
  yAxis: {
    type: 'value', min: yTicks[0], max: yTicks[yTicks.length - 1], interval: 1, z: 1,
    axisLine: { show: true, onZero: false, lineStyle: { color: AXIS, width: 1 } },
    axisTick: { show: true, inside: true, length: 5, lineStyle: { color: AXIS } },
    axisLabel: { margin: 11, color: AXIS, fontFamily: SANS, fontSize: 16.5 },
    splitLine: { show: true, lineStyle: { color: GRID, width: 1 } }
  },
  graphic: [
    { type: 'rect', left: 0, top: 0, shape: { width: 692, height: 7 }, style: { fill: '#eef2f6' }, silent: true },
    {
      type: 'text', x: 20, y: 232, rotation: Math.PI / 2,
      style: { text: '(Koherent Combined - B156)/B156*100 [%]', font: '18.5px ' + SANS, fill: AXIS, align: 'center', verticalAlign: 'middle' }
    },
    {
      type: 'text', x: 122, y: 443, z: 100,
      style: {
        text: '{i|offset} = 0.05% Amplitude=0.084 %',
        rich: { i: { fontStyle: 'italic', fontFamily: SERIF, fontSize: 20, fill: '#222' } },
        font: '20px ' + SERIF, fill: '#222',
        verticalAlign: 'middle', backgroundColor: '#ffffff', padding: [3, 4, 3, 4]
      }
    },
    {
      type: 'group', z: 100, children: [
        { type: 'rect', shape: { x: 380.5, y: 60.5, width: 240, height: 67 }, style: { fill: '#ffffff', stroke: AXIS, lineWidth: 1 } },
        { type: 'rect', shape: { x: 386, y: 68, width: 51, height: 11 }, style: { fill: '#d9d9d9' } },
        { type: 'circle', shape: { cx: 413, cy: 93, r: 1.1 }, style: { fill: '#0000ee' } },
        { type: 'circle', shape: { cx: 412, cy: 114, r: 8.5 }, style: { fill: '#8fd0f4', stroke: '#1c262c', lineWidth: 1.5 } },
        { type: 'text', x: 442, y: 73, style: { text: '+/- 0.88% intervall', font: '15.6px ' + SANS, fill: '#111', align: 'left', verticalAlign: 'middle' } },
        { type: 'text', x: 442, y: 93, style: { text: '5-minute measurements', font: '15.6px ' + SANS, fill: '#111', align: 'left', verticalAlign: 'middle' } },
        { type: 'text', x: 442, y: 114, style: { text: 'Monthly Mean', font: '15.6px ' + SANS, fill: '#111', align: 'left', verticalAlign: 'middle' } }
      ]
    }
  ],
  series: [
    {
      name: '+/- 0.88% intervall', type: 'line', data: [], z: 0, silent: true,
      markArea: {
        silent: true, itemStyle: { color: '#d9d9d9' },
        data: [[{ yAxis: bandHalfWidth }, { yAxis: -bandHalfWidth }]]
      }
    },
    {
      name: '5-minute measurements', type: 'scatter', data: measPoints, z: 2,
      symbol: 'circle', symbolSize: 2.6, itemStyle: { color: '#0a0ad8' }, silent: true, large: false
    },
    {
      name: 'fit', type: 'line', data: fitPoints, z: 3, smooth: true, showSymbol: false,
      lineStyle: { color: '#000', width: 5 }, silent: true
    },
    {
      name: 'Monthly Mean', type: 'scatter', data: meanPoints, z: 4,
      symbol: 'circle', symbolSize: 19,
      itemStyle: { color: '#8fd0f4', borderColor: '#1c262c', borderWidth: 1.5, opacity: 1 }, silent: true
    }
  ]
});
</script>
</body>
</html>
